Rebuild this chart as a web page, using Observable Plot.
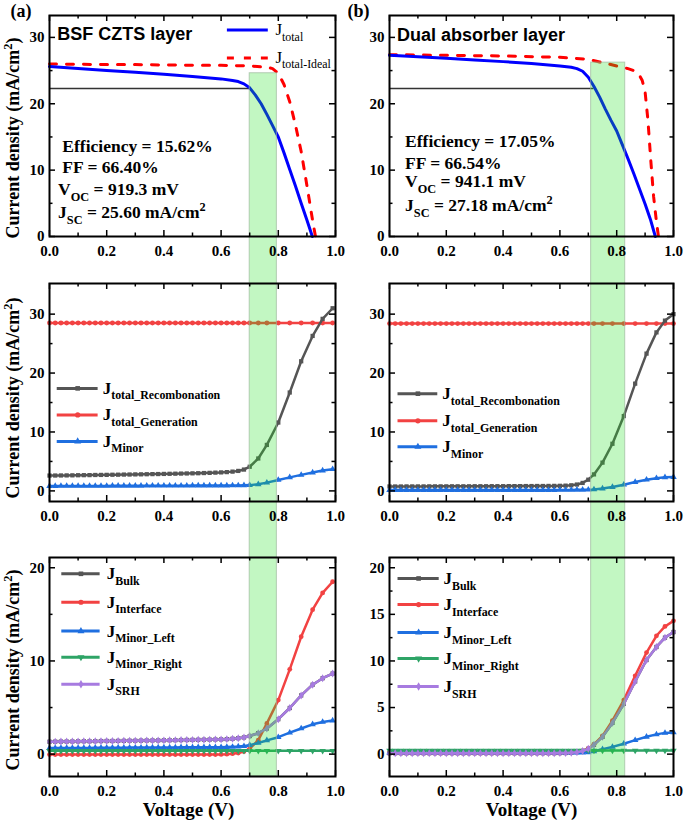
<!DOCTYPE html>
<html><head><meta charset="utf-8">
<script src="https://cdn.jsdelivr.net/npm/d3@7"></script>
<script src="https://cdn.jsdelivr.net/npm/@observablehq/plot@0.6"></script>
<style>
body{margin:0;background:#fff;}
#root{position:relative;width:685px;height:822px;overflow:hidden;background:#fff;}
.panel{position:absolute;}
.ylab{position:absolute;white-space:nowrap;font-family:'Liberation Serif','Times New Roman',serif;font-weight:bold;font-size:18px;line-height:1;color:#000;transform:translate(-50%,-50%) rotate(-90deg);z-index:5;}
.ylab .sup{font-size:12.5px;vertical-align:7px;}
</style></head><body><div id="root"></div>
<script>
// ---------- DATA ----------
const xMajorTicks = [0, 0.2, 0.4, 0.6, 0.8, 1.0];
const xMinorTicks = [0.1, 0.3, 0.5, 0.7, 0.9];

// Top row: J-V curves
const vTotalA = [0, 0.1, 0.2, 0.3, 0.4, 0.5, 0.6, 0.64, 0.66, 0.68, 0.70, 0.72, 0.74, 0.76, 0.78, 0.80, 0.82, 0.84, 0.86, 0.88, 0.90, 0.919];
const jTotalA = [25.6, 25.3, 25.0, 24.75, 24.45, 24.1, 23.75, 23.5, 23.35, 23.0, 22.4, 21.3, 20.0, 18.4, 16.7, 15.0, 12.6, 10.1, 7.6, 5.0, 2.5, 0];
const vIdealA = [0, 0.1, 0.2, 0.3, 0.4, 0.5, 0.6, 0.7, 0.76, 0.78, 0.80, 0.82, 0.84, 0.86, 0.88, 0.90, 0.92, 0.93];
const jIdealA = [26.0, 25.95, 25.9, 25.9, 25.85, 25.8, 25.8, 25.7, 25.5, 25.3, 24.6, 22.9, 20.3, 16.8, 12.8, 7.7, 2.4, 0];
const vTotalB = [0, 0.1, 0.2, 0.3, 0.4, 0.5, 0.6, 0.64, 0.66, 0.68, 0.70, 0.72, 0.74, 0.76, 0.78, 0.80, 0.82, 0.84, 0.86, 0.88, 0.90, 0.92, 0.936];
const jTotalB = [27.3, 27.1, 26.85, 26.6, 26.35, 26.05, 25.7, 25.5, 25.3, 24.9, 24.0, 22.6, 21.0, 19.2, 17.5, 15.9, 13.8, 11.7, 9.5, 7.2, 4.9, 2.4, 0];
const vIdealB = [0, 0.2, 0.4, 0.6, 0.7, 0.74, 0.8, 0.84, 0.86, 0.88, 0.89, 0.90, 0.91, 0.92, 0.93, 0.94, 0.947];
const jIdealB = [27.4, 27.3, 27.2, 27.0, 26.7, 26.3, 25.7, 25.3, 25.0, 24.3, 23.5, 21.8, 17.5, 11.5, 6.0, 2.2, 0];
const topLegendLabels = ["J_{total}", "J_{total-Ideal}"];
const titleA = "BSF CZTS layer";
const titleB = "Dual absorber layer";
const metricsA = ["Efficiency = 15.62%", "FF = 66.40%", "V_{OC} = 919.3 mV", "J_{SC} = 25.60 mA/cm^{2}"];
const metricsB = ["Efficiency = 17.05%", "FF = 66.54%", "V_{OC} = 941.1 mV", "J_{SC} = 27.18 mA/cm^{2}"];
const mppJA = 22.3, mppVA = 0.70;
const mppJB = 22.3, mppVB = 0.72;

// Voltage grids for recombination plots
const vGridA = [0,0.02,0.04,0.06,0.08,0.10,0.12,0.14,0.16,0.18,0.20,0.22,0.24,0.26,0.28,0.30,0.32,0.34,0.36,0.38,0.40,0.42,0.44,0.46,0.48,0.50,0.52,0.54,0.56,0.58,0.60,0.62,0.64,0.66,0.68,0.70,0.73,0.76,0.80,0.84,0.88,0.92,0.955,0.99];
const vGridB = [0,0.02,0.04,0.06,0.08,0.10,0.12,0.14,0.16,0.18,0.20,0.22,0.24,0.26,0.28,0.30,0.32,0.34,0.36,0.38,0.40,0.42,0.44,0.46,0.48,0.50,0.52,0.54,0.56,0.58,0.60,0.62,0.64,0.66,0.68,0.70,0.72,0.75,0.785,0.825,0.865,0.905,0.94,0.97,1.0];

// Middle row
const jRecombA = [2.60,2.61,2.62,2.63,2.64,2.66,2.67,2.68,2.70,2.71,2.72,2.74,2.75,2.77,2.78,2.80,2.81,2.83,2.85,2.86,2.88,2.90,2.92,2.94,2.96,2.98,3.00,3.03,3.06,3.10,3.14,3.19,3.27,3.39,3.62,4.10,5.50,7.80,11.6,16.7,22.0,26.3,29.2,31.0];
const jGenA = [28.5,28.5,28.5,28.5,28.5,28.5,28.5,28.5,28.5,28.5,28.5,28.5,28.5,28.5,28.5,28.5,28.5,28.5,28.5,28.5,28.5,28.5,28.5,28.5,28.5,28.5,28.5,28.5,28.5,28.5,28.5,28.5,28.5,28.5,28.5,28.5,28.5,28.5,28.5,28.5,28.5,28.5,28.5,28.5];
const jMinorA = [0.82,0.82,0.83,0.83,0.83,0.84,0.84,0.84,0.85,0.85,0.85,0.86,0.86,0.86,0.87,0.87,0.87,0.88,0.88,0.88,0.88,0.89,0.89,0.89,0.89,0.90,0.90,0.90,0.90,0.91,0.91,0.91,0.92,0.93,0.95,0.98,1.12,1.40,1.85,2.30,2.72,3.12,3.45,3.68];
const jRecombB = [0.75,0.75,0.75,0.76,0.76,0.76,0.76,0.77,0.77,0.77,0.77,0.78,0.78,0.78,0.78,0.79,0.79,0.79,0.80,0.80,0.80,0.81,0.81,0.81,0.82,0.82,0.83,0.83,0.84,0.85,0.86,0.89,0.95,1.08,1.35,1.90,2.80,4.80,8.00,12.7,18.2,23.3,26.9,28.9,30.0];
const jGenB = [28.4,28.4,28.4,28.4,28.4,28.4,28.4,28.4,28.4,28.4,28.4,28.4,28.4,28.4,28.4,28.4,28.4,28.4,28.4,28.4,28.4,28.4,28.4,28.4,28.4,28.4,28.4,28.4,28.4,28.4,28.4,28.4,28.4,28.4,28.4,28.4,28.4,28.4,28.4,28.4,28.4,28.4,28.4,28.4,28.4];
const jMinorB = [0.15,0.15,0.15,0.15,0.15,0.15,0.15,0.15,0.15,0.15,0.15,0.15,0.15,0.15,0.15,0.15,0.15,0.15,0.15,0.15,0.15,0.15,0.15,0.15,0.15,0.15,0.15,0.15,0.15,0.15,0.16,0.16,0.17,0.18,0.19,0.21,0.25,0.40,0.65,1.05,1.50,1.90,2.15,2.30,2.35];
const midLegendLabels = ["J_{total_Recombonation}", "J_{total_Generation}", "J_{Minor}"];

// Bottom row
const jBulkA = [1.33,1.34,1.35,1.35,1.36,1.37,1.38,1.38,1.39,1.40,1.41,1.41,1.42,1.43,1.44,1.44,1.45,1.46,1.47,1.47,1.48,1.49,1.50,1.51,1.52,1.53,1.54,1.55,1.56,1.57,1.58,1.61,1.65,1.71,1.79,1.94,2.25,2.75,3.75,4.95,6.30,7.45,8.15,8.65];
const jIntA = [-0.05,-0.05,-0.05,-0.05,-0.05,-0.05,-0.05,-0.05,-0.05,-0.05,-0.05,-0.05,-0.05,-0.05,-0.05,-0.05,-0.05,-0.05,-0.05,-0.05,-0.05,-0.05,-0.05,-0.05,-0.05,-0.05,-0.05,-0.05,-0.05,-0.05,-0.03,0.00,0.05,0.12,0.28,0.60,1.50,3.30,5.80,9.10,12.6,15.5,17.3,18.5];
const jMinLA = [0.65,0.65,0.66,0.66,0.66,0.67,0.67,0.67,0.68,0.68,0.68,0.69,0.69,0.69,0.70,0.70,0.70,0.71,0.71,0.71,0.72,0.72,0.72,0.73,0.73,0.73,0.74,0.74,0.74,0.75,0.75,0.76,0.78,0.81,0.86,0.97,1.20,1.48,1.82,2.30,2.75,3.20,3.45,3.60];
const jMinRA = [0.35,0.35,0.35,0.35,0.35,0.35,0.35,0.35,0.35,0.35,0.35,0.35,0.35,0.35,0.35,0.35,0.35,0.35,0.35,0.35,0.35,0.35,0.35,0.35,0.35,0.35,0.35,0.35,0.35,0.35,0.35,0.35,0.35,0.35,0.35,0.35,0.35,0.35,0.35,0.35,0.35,0.35,0.35,0.35];
const jSrhA = [1.33,1.34,1.35,1.35,1.36,1.37,1.38,1.38,1.39,1.40,1.41,1.41,1.42,1.43,1.44,1.44,1.45,1.46,1.47,1.47,1.48,1.49,1.50,1.51,1.52,1.53,1.54,1.55,1.56,1.57,1.58,1.61,1.65,1.71,1.79,1.94,2.25,2.75,3.75,4.95,6.30,7.45,8.15,8.65];
const jBulkB = [0.10,0.10,0.10,0.10,0.10,0.10,0.10,0.10,0.10,0.10,0.10,0.10,0.10,0.10,0.10,0.10,0.10,0.10,0.10,0.10,0.10,0.10,0.10,0.10,0.10,0.10,0.10,0.10,0.10,0.10,0.11,0.12,0.15,0.21,0.34,0.57,1.00,1.85,3.35,5.40,7.80,10.1,11.5,12.5,13.1];
const jIntB = [0.10,0.10,0.10,0.10,0.10,0.10,0.10,0.10,0.10,0.10,0.10,0.10,0.10,0.10,0.10,0.10,0.10,0.10,0.10,0.10,0.10,0.10,0.10,0.10,0.10,0.10,0.10,0.10,0.10,0.10,0.11,0.13,0.16,0.23,0.36,0.60,1.05,1.95,3.60,5.80,8.40,10.9,12.7,13.7,14.3];
const jMinLB = [0.15,0.15,0.15,0.15,0.15,0.15,0.15,0.15,0.15,0.15,0.15,0.15,0.15,0.15,0.15,0.15,0.15,0.15,0.15,0.15,0.15,0.15,0.15,0.15,0.15,0.15,0.15,0.15,0.15,0.15,0.15,0.15,0.15,0.16,0.17,0.19,0.30,0.52,0.78,1.12,1.50,1.86,2.12,2.28,2.33];
const jMinRB = [0.38,0.38,0.38,0.38,0.38,0.38,0.38,0.38,0.38,0.38,0.38,0.38,0.38,0.38,0.38,0.38,0.38,0.38,0.38,0.38,0.38,0.38,0.38,0.38,0.38,0.38,0.38,0.38,0.38,0.38,0.38,0.38,0.38,0.38,0.38,0.38,0.38,0.38,0.38,0.38,0.38,0.38,0.38,0.38,0.38];
const jSrhB = [0.10,0.10,0.10,0.10,0.10,0.10,0.10,0.10,0.10,0.10,0.10,0.10,0.10,0.10,0.10,0.10,0.10,0.10,0.10,0.10,0.10,0.10,0.10,0.10,0.10,0.10,0.10,0.10,0.10,0.10,0.11,0.12,0.15,0.21,0.34,0.57,1.00,1.85,3.35,5.40,7.80,10.1,11.5,12.5,13.1];
const botLegendLabels = ["J_{Bulk}", "J_{Interface}", "J_{Minor_Left}", "J_{Minor_Right}", "J_{SRH}"];

// highlighted voltage windows
const bandA = {x1: 0.70, x2: 0.795, top: 24.6};
const bandB = {x1: 0.71, x2: 0.83, top: 26.2};

const yLabelMain = "Current density (mA/cm";
const yLabelSup = "2";
const xLabelText = "Voltage (V)";

// ---------- STYLE ----------
const SERIF = "'Liberation Serif','Times New Roman',serif";
const SANS = "'Liberation Sans',Arial,sans-serif";
const C = {gray: "#555555", red: "#f24242", blue: "#1f6fe0", green: "#2ea466", purple: "#a77be0"};
const bold = {fontFamily: SERIF, fontWeight: "bold", fill: "black"};

const cols = [{left: 0, width: 348, ml: 49, mr: 13}, {left: 348, width: 337, ml: 41, mr: 12}];
const rows = [{top: 0, height: 260, mt: 15, mb: 24}, {top: 260, height: 280, mt: 23, mb: 39}, {top: 540, height: 282, mt: 17, mb: 46}];

function tbl(v, j) { return v.map((x, i) => ({x, y: j[i]})); }

function frameMarks(p, yMaj, yMin) {
  const iw = p.width - p.ml - p.mr, ih = p.height - p.mt - p.mb;
  const tk = {stroke: "black", strokeWidth: 1.5};
  const M = 6, m = 3.5;
  return [
    Plot.tickX(xMajorTicks, {x: d => d, insetTop: ih - M, ...tk}),
    Plot.tickX(xMajorTicks, {x: d => d, insetBottom: ih - M, ...tk}),
    Plot.tickX(xMinorTicks, {x: d => d, insetTop: ih - m, ...tk}),
    Plot.tickX(xMinorTicks, {x: d => d, insetBottom: ih - m, ...tk}),
    Plot.tickY(yMaj, {y: d => d, insetRight: iw - M, ...tk}),
    Plot.tickY(yMaj, {y: d => d, insetLeft: iw - M, ...tk}),
    Plot.tickY(yMin, {y: d => d, insetRight: iw - m, ...tk}),
    Plot.tickY(yMin, {y: d => d, insetLeft: iw - m, ...tk}),
    Plot.frame({stroke: "black", strokeWidth: 2}),
    Plot.text(xMajorTicks, {x: d => d, frameAnchor: "bottom", dy: 19, lineAnchor: "bottom", text: d => d.toFixed(1), fontSize: 15, ...bold}),
    Plot.text(yMaj, {y: d => d, frameAnchor: "left", dx: -5, textAnchor: "end", text: d => String(d), fontSize: 15, ...bold})
  ];
}

function bandMark(band, y1, y2) {
  return Plot.rect([band], {x1: d => d.x1, x2: d => d.x2, y1: () => y1, y2: () => y2,
    fill: "#1ee01e", fillOpacity: 0.27, stroke: "#9db89d", strokeOpacity: 0.7, strokeWidth: 1});
}

function seriesMarks(series) {
  const out = [];
  for (const s of series) {
    const d = tbl(s.v, s.j);
    out.push(Plot.line(d, {x: "x", y: "y", stroke: s.color, strokeWidth: 2.5}));
    out.push(Plot.dot(d, {x: "x", y: "y", fill: s.color, stroke: "none", symbol: s.symbol, r: 2.4, rotate: s.rot || 0}));
  }
  return out;
}

function legendMarks(series, labels, ys, x1, x2, xt) {
  const out = [];
  series.forEach((s, i) => {
    out.push(Plot.ruleY([ys[i]], {y: d => d, x1: x1, x2: x2, stroke: s.color, strokeWidth: 3}));
    out.push(Plot.dot([ys[i]], {y: d => d, x: (x1 + x2) / 2, fill: s.color, stroke: "none", symbol: s.symbol, r: 2.6, rotate: s.rot || 0}));
    out.push(Plot.text([labels[i]], {x: xt, y: ys[i], textAnchor: "start", lineAnchor: "middle", fontSize: 17, ...bold}));
  });
  return out;
}

function richify(svg) {
  svg.querySelectorAll("text").forEach(t => {
    if (t.querySelector("tspan")) return;
    const s = t.textContent;
    if (!/[_^]\{/.test(s)) return;
    const fs = parseFloat(getComputedStyle(t).fontSize);
    t.textContent = "";
    const re = /([_^])\{([^}]*)\}/g;
    let last = 0, m, shift = 0;
    const add = (txt, kind) => {
      const ts = document.createElementNS("http://www.w3.org/2000/svg", "tspan");
      ts.textContent = txt;
      const target = kind === "_" ? fs * 0.33 : kind === "^" ? -fs * 0.4 : 0;
      const dy = target - shift;
      if (dy) ts.setAttribute("dy", dy.toFixed(2));
      shift = target;
      if (kind) ts.setAttribute("font-size", (fs * 0.7).toFixed(1));
      t.appendChild(ts);
    };
    while ((m = re.exec(s))) {
      if (m.index > last) add(s.slice(last, m.index), null);
      add(m[2], m[1]);
      last = re.lastIndex;
    }
    if (last < s.length) add(s.slice(last), null);
  });
}

const root = document.getElementById("root");
function place(col, row, yDomain, marks) {
  const p = {...cols[col], ...rows[row]};
  const plot = Plot.plot({
    width: p.width, height: p.height,
    marginLeft: p.ml, marginRight: p.mr, marginTop: p.mt, marginBottom: p.mb,
    x: {domain: [0, 1], axis: null},
    y: {domain: yDomain, axis: null},
    style: {background: "white", overflow: "hidden"},
    marks: marks(p)
  });
  plot.classList.add("panel");
  plot.style.left = p.left + "px";
  plot.style.top = p.top + "px";
  plot.style.position = "absolute";
  root.appendChild(plot);
  richify(plot);
}
function yLabelHTML(cx, cy) {
  const d = document.createElement("div");
  d.className = "ylab";
  d.style.left = cx + "px";
  d.style.top = cy + "px";
  d.appendChild(document.createTextNode(yLabelMain));
  const s = document.createElement("span");
  s.className = "sup";
  s.textContent = yLabelSup;
  d.appendChild(s);
  d.appendChild(document.createTextNode(")"));
  root.appendChild(d);
}

// ---------- PANELS ----------
const yTop = [0, 33.3], yMid = [-1.8, 35.2], yBot = [-2.4, 21.1];

// Top-left
place(0, 0, yTop, p => [
  Plot.ruleY([mppJA], {y: d => d, x1: 0, x2: mppVA, stroke: "#333", strokeWidth: 1.5}),
  Plot.line(tbl(vIdealA, jIdealA), {x: "x", y: "y", stroke: "#ff0000", strokeWidth: 3, strokeDasharray: "7,10"}),
  Plot.line(tbl(vTotalA, jTotalA), {x: "x", y: "y", stroke: "#0000ff", strokeWidth: 3}),
  bandMark(bandA, bandA.top, -60),
  Plot.ruleY([31.1], {y: d => d, x1: 0.622, x2: 0.765, stroke: "#0000ff", strokeWidth: 3}),
  Plot.ruleY([26.9], {y: d => d, x1: 0.622, x2: 0.765, stroke: "#ff0000", strokeWidth: 3, strokeDasharray: "7,10"}),
  Plot.text([topLegendLabels[0]], {x: 0.79, y: 30.3, textAnchor: "start", lineAnchor: "bottom", fontSize: 17, fontFamily: SERIF, fill: "black"}),
  Plot.text([topLegendLabels[1]], {x: 0.79, y: 26.2, textAnchor: "start", lineAnchor: "bottom", fontSize: 17, fontFamily: SERIF, fill: "black"}),
  Plot.text([titleA], {x: 0.027, y: 29.6, textAnchor: "start", lineAnchor: "bottom", fontSize: 18, fontFamily: SANS, fontWeight: "bold", fill: "black"}),
  Plot.text([metricsA[0]], {x: 0.045, y: 12.7, textAnchor: "start", lineAnchor: "bottom", fontSize: 17.5, ...bold}),
  Plot.text([metricsA[1]], {x: 0.045, y: 9.5, textAnchor: "start", lineAnchor: "bottom", fontSize: 17.5, ...bold}),
  Plot.text([metricsA[2]], {x: 0.03, y: 6.2, textAnchor: "start", lineAnchor: "bottom", fontSize: 17.5, ...bold}),
  Plot.text([metricsA[3]], {x: 0.03, y: 2.8, textAnchor: "start", lineAnchor: "bottom", fontSize: 17.5, ...bold}),
  ...frameMarks(p, [0, 10, 20, 30], [5, 15, 25]),
  Plot.text(["(a)"], {frameAnchor: "top-left", dx: -39, dy: 1, textAnchor: "start", lineAnchor: "bottom", fontSize: 18, ...bold})
]);

// Top-right
place(1, 0, yTop, p => [
  Plot.ruleY([mppJB], {y: d => d, x1: 0, x2: mppVB, stroke: "#333", strokeWidth: 1.5}),
  Plot.line(tbl(vIdealB, jIdealB), {x: "x", y: "y", stroke: "#ff0000", strokeWidth: 3, strokeDasharray: "7,10"}),
  Plot.line(tbl(vTotalB, jTotalB), {x: "x", y: "y", stroke: "#0000ff", strokeWidth: 3}),
  bandMark(bandB, bandB.top, -60),
  Plot.text([titleB], {x: 0.026, y: 29.5, textAnchor: "start", lineAnchor: "bottom", fontSize: 18, fontFamily: SANS, fontWeight: "bold", fill: "black"}),
  Plot.text([metricsB[0]], {x: 0.055, y: 13.5, textAnchor: "start", lineAnchor: "bottom", fontSize: 17.5, ...bold}),
  Plot.text([metricsB[1]], {x: 0.055, y: 10.2, textAnchor: "start", lineAnchor: "bottom", fontSize: 17.5, ...bold}),
  Plot.text([metricsB[2]], {x: 0.055, y: 7.4, textAnchor: "start", lineAnchor: "bottom", fontSize: 17.5, ...bold}),
  Plot.text([metricsB[3]], {x: 0.055, y: 3.8, textAnchor: "start", lineAnchor: "bottom", fontSize: 17.5, ...bold}),
  ...frameMarks(p, [0, 10, 20, 30], [5, 15, 25]),
  Plot.text(["(b)"], {frameAnchor: "top-left", dx: -42, dy: 1, textAnchor: "start", lineAnchor: "bottom", fontSize: 18, ...bold})
]);

// Middle row
const midSeriesA = [
  {v: vGridA, j: jRecombA, color: C.gray, symbol: "square"},
  {v: vGridA, j: jGenA, color: C.red, symbol: "circle"},
  {v: vGridA, j: jMinorA, color: C.blue, symbol: "triangle"}
];
const midSeriesB = [
  {v: vGridB, j: jRecombB, color: C.gray, symbol: "square"},
  {v: vGridB, j: jGenB, color: C.red, symbol: "circle"},
  {v: vGridB, j: jMinorB, color: C.blue, symbol: "triangle"}
];
place(0, 1, yMid, p => [
  ...seriesMarks([midSeriesA[1], midSeriesA[0], midSeriesA[2]]),
  bandMark(bandA, 100, -60),
  ...legendMarks(midSeriesA, midLegendLabels, [17.4, 12.9, 8.4], 0.027, 0.17, 0.186),
  ...frameMarks(p, [0, 10, 20, 30], [5, 15, 25])
]);
place(1, 1, yMid, p => [
  ...seriesMarks([midSeriesB[1], midSeriesB[0], midSeriesB[2]]),
  bandMark(bandB, 100, -60),
  ...legendMarks(midSeriesB, midLegendLabels, [16.5, 11.9, 7.5], 0.03, 0.17, 0.186),
  ...frameMarks(p, [0, 10, 20, 30], [5, 15, 25])
]);

// Bottom row
const botSeriesA = [
  {v: vGridA, j: jBulkA, color: C.gray, symbol: "square"},
  {v: vGridA, j: jIntA, color: C.red, symbol: "circle"},
  {v: vGridA, j: jMinLA, color: C.blue, symbol: "triangle"},
  {v: vGridA, j: jMinRA, color: C.green, symbol: "triangle", rot: 180},
  {v: vGridA, j: jSrhA, color: C.purple, symbol: "diamond"}
];
const botSeriesB = [
  {v: vGridB, j: jBulkB, color: C.gray, symbol: "square"},
  {v: vGridB, j: jIntB, color: C.red, symbol: "circle"},
  {v: vGridB, j: jMinLB, color: C.blue, symbol: "triangle"},
  {v: vGridB, j: jMinRB, color: C.green, symbol: "triangle", rot: 180},
  {v: vGridB, j: jSrhB, color: C.purple, symbol: "diamond"}
];
place(0, 2, yBot, p => [
  ...seriesMarks(botSeriesA),
  bandMark(bandA, 100, yBot[0]),
  ...legendMarks(botSeriesA, botLegendLabels, [19.35, 16.3, 13.2, 10.4, 7.5], 0.043, 0.177, 0.2),
  ...frameMarks(p, [0, 10, 20], [5, 15]),
  Plot.text([xLabelText], {frameAnchor: "bottom", dx: -4, dy: 39, lineAnchor: "bottom", fontSize: 19, ...bold})
]);
place(1, 2, yBot, p => [
  ...seriesMarks(botSeriesB),
  bandMark(bandB, 100, yBot[0]),
  ...legendMarks(botSeriesB, botLegendLabels, [18.85, 16.05, 13.05, 10.25, 7.25], 0.03, 0.175, 0.19),
  ...frameMarks(p, [0, 5, 10, 15, 20], [2.5, 7.5, 12.5, 17.5]),
  Plot.text([xLabelText], {frameAnchor: "bottom", dy: 39, lineAnchor: "bottom", fontSize: 19, ...bold})
]);

// rotated y-axis titles (left column)
yLabelHTML(12, 138);
yLabelHTML(12, 398);
yLabelHTML(12, 670);
</script></body></html>
